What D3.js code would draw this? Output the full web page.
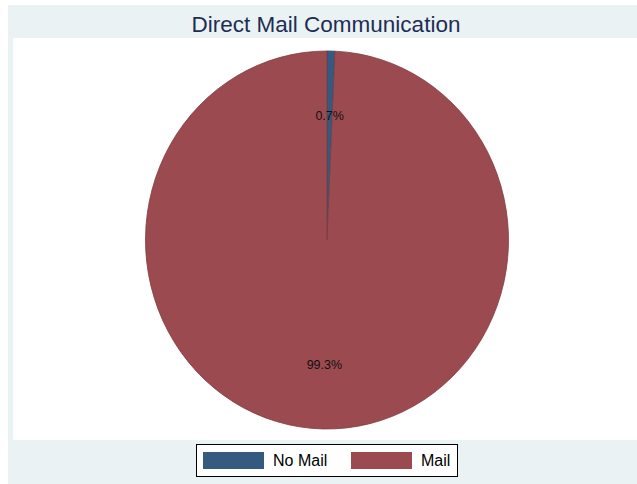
<!DOCTYPE html>
<html>
<head>
<meta charset="utf-8">
<script src="https://cdn.jsdelivr.net/npm/d3@7"></script>
<style>
  html, body { margin: 0; padding: 0; background: #ffffff; }
  svg { display: block; }
</style>
</head>
<body>
<svg id="chart" width="637" height="484"></svg>
<script>
// Direct mail communication shares
const categories = ["No Mail", "Mail"];
const shares = [0.7, 99.3];
const sliceColors = ["#345a7f", "#9b4a50"];
const titleText = "Direct Mail Communication";

const svg = d3.select("#chart");
const W = 637, H = 484;

// outer graph region and inner plot region
svg.append("rect").attr("x", 8).attr("y", 5).attr("width", W - 8).attr("height", H - 5)
  .attr("fill", "#eaf2f3");
svg.append("rect").attr("x", 13).attr("y", 38).attr("width", W - 13).attr("height", 402)
  .attr("fill", "#ffffff");

svg.append("text")
  .attr("x", 326).attr("y", 32)
  .attr("text-anchor", "middle")
  .attr("font-family", "Liberation Sans, Arial, sans-serif")
  .attr("font-size", 22.5)
  .attr("fill", "#1e2d53")
  .text(titleText);

// pie, drawn clockwise from 12 o'clock
const cx = 327, cy = 240, rx = 181.5, ry = 189;
const pie = d3.pie().sort(null).value(d => d);
const arcs = pie(shares);
const arc = d3.arc().innerRadius(0).outerRadius(rx);
const labelArc = d3.arc().innerRadius(rx * 0.66).outerRadius(rx * 0.66);

const g = svg.append("g").attr("transform", `translate(${cx},${cy}) scale(1,${ry / rx})`);
g.selectAll("path.slice").data(arcs).join("path")
  .attr("class", "slice")
  .attr("d", arc)
  .attr("fill", (d, i) => sliceColors[i])
  .attr("stroke", (d, i) => d3.color(sliceColors[i]).darker(0.6))
  .attr("stroke-width", 0.8)
  .attr("vector-effect", "non-scaling-stroke");

svg.append("g").selectAll("text").data(arcs).join("text")
  .attr("transform", d => {
    const [x, y] = labelArc.centroid(d);
    return `translate(${cx + x},${cy + y * ry / rx})`;
  })
  .attr("text-anchor", "middle")
  .attr("dy", "0.35em")
  .attr("font-family", "Liberation Sans, Arial, sans-serif")
  .attr("font-size", 12.5)
  .attr("fill", "#111")
  .text(d => d3.format(".1f")(d.data) + "%");

// legend
const lg = svg.append("g");
lg.append("rect").attr("x", 196.5).attr("y", 444.5).attr("width", 261).attr("height", 32)
  .attr("fill", "#ffffff").attr("stroke", "#000").attr("stroke-width", 1);
const items = [
  { sx: 203, tx: 273 },
  { sx: 351, tx: 421 }
];
categories.forEach((c, i) => {
  lg.append("rect").attr("x", items[i].sx).attr("y", 452).attr("width", 61).attr("height", 17)
    .attr("fill", sliceColors[i]);
  lg.append("text").attr("x", items[i].tx).attr("y", 466)
    .attr("font-family", "Liberation Sans, Arial, sans-serif")
    .attr("font-size", 16)
    .attr("fill", "#000")
    .text(c);
});
</script>
</body>
</html>
